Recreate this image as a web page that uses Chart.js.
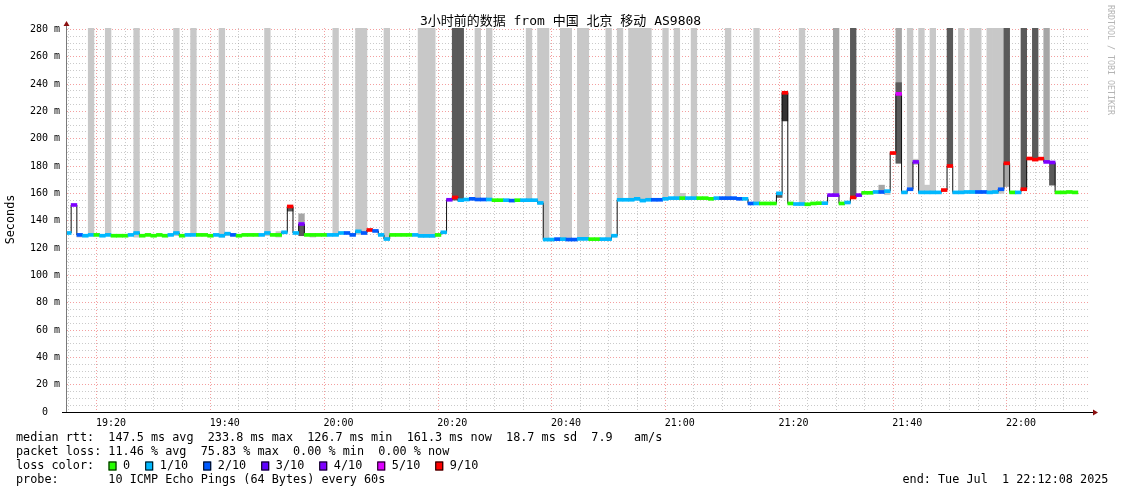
<!DOCTYPE html>
<html>
<head>
<meta charset="utf-8">
<script src="https://cdn.jsdelivr.net/npm/chart.js@4.4.1/dist/chart.umd.min.js"></script>
<style>
html,body{margin:0;padding:0;background:#fff;overflow:hidden}
canvas{display:block}
</style>
</head>
<body>
<canvas id="c" width="1121" height="494"></canvas>
<script>
// ---------------- data ----------------
const titleText = '3小时前的数据 from 中国 北京 移动 AS9808';
const yAxisTitle = 'Seconds';
const watermark = 'RRDTOOL / TOBI OETIKER';
const xLabels = ['19:20','19:40','20:00','20:20','20:40','21:00','21:20','21:40','22:00'];
const yLabelStep = 20;               // labelled every 20 ms
const viewStart = '19:12:16';
const viewEnd = '22:12:08';
const firstSample = '19:12';          // one sample per minute

// median rtt (ms) per minute
const median = [
 131,151.5,129.6,129,129.6,129.6,129,129.6,129,129,
 129,129.6,131,129,129.6,129,129.6,129,129.6,131,
 129,129.6,129.6,129.6,129.6,129,129.6,129,130.5,129.6,
 129,129.6,129.6,129.6,129.6,131,129.6,129.6,131.5,150.4,
 131,137.6,129.6,129.6,129.6,129.6,129.6,129.6,131,131,
 129.6,132.2,131,133.2,132.5,129.6,126.6,129.6,129.6,129.6,
 129.6,129.6,128.9,128.9,128.9,129.6,131.5,155.3,157,155,
 155.5,156,155.5,155.5,155.5,155,155,155,154.7,155,
 155,155,155,153,126.2,126.2,126.5,126.5,126.2,126.2,
 126.7,126.7,126.5,126.5,126.5,126.5,129,155.3,155.3,155.3,
 156,154.7,155.3,155.3,155.3,156,156.5,156.5,156.5,156.5,
 156.5,156.5,156.5,156,156.5,156.5,156.5,156.5,156,156,
 152.6,152.6,152.6,152.6,152.6,160,233.6,152.6,152.2,152.2,
 152,152.6,152.8,152.8,158.7,158.7,152.6,153.3,157,158.7,
 160.4,160.4,161,161,161.6,189.5,232.8,160.7,163,183,
 160.7,160.7,160.7,160.7,162.4,180,160.7,160.7,161,161,
 161,161,160.7,161,163,182,160.7,160.7,163,185.5,
 184.7,185.4,183,182.6,160.7,160.7,161,160.7
];
// lost pings out of 10 per minute
const loss = [
 1,4,2,1,1,0,1,1,0,0,
 0,1,1,0,0,0,0,0,1,1,
 0,1,1,0,0,0,1,1,1,2,
 0,0,0,0,1,1,0,0,1,9,
 1,4,0,0,0,0,1,1,1,2,
 2,1,2,9,2,1,1,0,0,0,
 0,1,1,1,1,0,1,4,9,1,
 1,2,2,2,1,0,0,1,2,0,
 1,1,1,1,1,1,2,1,2,2,
 1,1,0,0,1,1,1,1,1,1,
 1,1,1,2,2,1,1,1,0,1,
 1,0,0,0,1,2,2,2,2,1,
 2,1,0,0,0,1,9,0,1,1,
 0,0,0,1,4,4,0,1,9,4,
 0,0,1,2,1,9,5,1,2,4,
 1,1,1,1,9,9,1,1,1,1,
 2,2,1,1,2,9,0,1,9,9,
 9,9,4,4,0,0,0,0
];
// smoke (ping spread) [sample index, low ms, high ms]; 300 = beyond the top of the graph
const smokeLight = [
 [2,128,130],[4,129,300],[7,129,300],[12,128,300],[19,129,300],[22,129,300],[27,128,300],[28,129,131],
 [35,129,300],[37,128,132],[43,128,130],[47,129,300],[51,130,300],[52,130,300],[56,126,300],
 [62,128,300],[63,128,300],[64,128,300],[65,128.5,130],[72,155,300],[74,155,300],[81,155,300],
 [83,152,300],[84,126,300],[87,126,300],[88,126,300],[90,126,300],[91,126,300],[95,126,300],[96,128,130],
 [97,155,300],[99,155,300],[100,155,300],[101,155,300],[102,155,300],[105,156,300],[107,156,300],
 [108,156,160],[110,156,300],[116,156,300],[121,152,300],[129,152,300],[144,159,161],[148,162,300],
 [149,181,185],[150,160,300],[151,160,166],[152,160,300],[157,160,300],[159,160,300],[160,160,300],
 [162,160,300],[163,160,300],[164,160,300]
];
const smokeMid = [
 [41,139,145],[135,158,300],[143,161,166],[146,236,300],[165,165,182],[172,183,300]
];
const smokeDark = [
 [39,147,150],[41,129,137],[68,155,300],[69,155,300],[125,157,160],[138,157,300],[146,182,241],
 [155,180,300],[165,182,300],[168,163,300],[170,185,300],[173,166,182]
];
const smokeDeep = [[126,213,234]];

const lossKeys = [0,1,2,3,4,5,9];
const lossLabels = ['0','1/10','2/10','3/10','4/10','5/10','9/10'];
const lossColors = ['#26ff00','#00b8ff','#0059ff','#5e00ff','#7e00ff','#dd00ff','#ff0000'];

const statLines = [
 'median rtt:  147.5 ms avg  233.8 ms max  126.7 ms min  161.3 ms now  18.7 ms sd  7.9   am/s',
 'packet loss: 11.46 % avg  75.83 % max  0.00 % min  0.00 % now',
 'loss color:',
 'probe:       10 ICMP Echo Pings (64 Bytes) every 60s'
];
const endText = 'end: Tue Jul  1 22:12:08 2025';

// ---------------- helpers ----------------
function toMin(s){ // minutes after 19:00
  const p = s.split(':').map(Number);
  return (p[0]-19)*60 + p[1] + (p[2]||0)/60;
}
function fmt(v){
  const h = 19 + Math.floor(v/60), m = Math.round(v%60);
  return h + ':' + String(m).padStart(2,'0');
}
const x0 = toMin(viewStart), x1 = toMin(viewEnd);
const s0 = toMin(firstSample);
const cx = j => s0 + j + 0.5;
const majorX = xLabels.map(toMin);
const lossColorOf = l => { let c = lossColors[0]; lossKeys.forEach((k,i)=>{ if(l>=k) c = lossColors[i]; }); return c; };

const BAND = 1.1;
const mkSmoke = arr => arr.map(([j,lo,hi]) => ({x: cx(j), y:[lo,hi]}));
const barBase = {type:'bar', grouped:false, barPercentage:1, categoryPercentage:1, borderWidth:0};

const xTicks = []; for (let v = 15; v <= 190; v += 5) xTicks.push(v);
const yTicks = []; for (let v = 0; v <= 280; v += 5) yTicks.push(v);

const MONO = "'DejaVu Sans Mono', 'Noto Sans CJK SC', monospace";
const gridMinor = 'rgba(150,150,150,0.5)';
const gridMajor = 'rgba(235,80,80,0.55)';

const decorations = {
  id: 'decorations',
  afterDraw(chart){
    const c = chart.ctx, a = chart.chartArea;
    c.save();
    // y axis
    c.strokeStyle = '#7a7a7a'; c.lineWidth = 1;
    c.beginPath(); c.moveTo(a.left - 0.5, a.bottom + 0.5); c.lineTo(a.left - 0.5, a.top - 3); c.stroke();
    // x axis
    c.strokeStyle = '#000';
    c.beginPath(); c.moveTo(a.left - 5, a.bottom + 0.5); c.lineTo(a.right + 4, a.bottom + 0.5); c.stroke();
    // arrows
    c.fillStyle = '#8b1010';
    c.beginPath(); c.moveTo(a.left - 0.5, a.top - 7); c.lineTo(a.left - 3.5, a.top - 2); c.lineTo(a.left + 2.5, a.top - 2); c.closePath(); c.fill();
    c.beginPath(); c.moveTo(a.right + 8, a.bottom + 0.5); c.lineTo(a.right + 3, a.bottom - 2.5); c.lineTo(a.right + 3, a.bottom + 3.5); c.closePath(); c.fill();

    // title
    c.fillStyle = '#000';
    c.font = '13px ' + MONO; c.textAlign = 'center'; c.textBaseline = 'middle';
    c.fillText(titleText, 560.5, 21.5);

    // y title
    c.save(); c.translate(10.5, 219.5); c.rotate(-Math.PI/2);
    c.font = '11.8px ' + MONO; c.fillText(yAxisTitle, 0, 0); c.restore();

    // watermark
    c.save(); c.translate(1110.5, 60); c.rotate(Math.PI/2);
    c.fillStyle = '#b4b4b4'; c.font = '8.3px ' + MONO; c.fillText(watermark, 0, 0); c.restore();

    // stats lines
    c.font = '11.8px ' + MONO; c.textAlign = 'left'; c.fillStyle = '#000';
    const ys = [438, 452, 466, 480];
    statLines.forEach((t,i) => c.fillText(t, 16, ys[i]));
    // loss colour legend
    let x = 108.5;
    lossLabels.forEach((lab,i) => {
      c.fillStyle = lossColors[i];
      c.fillRect(x, ys[2]-4.5, 8, 9);
      c.strokeStyle = '#000'; c.lineWidth = 1;
      c.strokeRect(x + 0.5, ys[2]-4, 7, 8);
      c.fillStyle = '#000';
      const tx = x + 14.6;
      c.fillText(lab, tx, ys[2]);
      x = tx + c.measureText(lab).width + 15;
    });
    c.fillText(endText, 902.5, ys[3]);
    c.restore();
  }
};

new Chart(document.getElementById('c'), {
  type: 'bar',
  data: {
    datasets: [
      Object.assign({}, barBase, {data: median.map((m,j)=>({x:cx(j), y:[m-BAND, m+BAND]})),
        backgroundColor: loss.map(lossColorOf), order: 0}),
      {type:'line', data: median.map((m,j)=>({x:cx(j), y:m})), stepped:'middle',
        borderColor:'#111', borderWidth:1, pointRadius:0, fill:false, order:1},
      Object.assign({}, barBase, {data: mkSmoke(smokeDeep), backgroundColor:'#333333', order:2}),
      Object.assign({}, barBase, {data: mkSmoke(smokeDark), backgroundColor:'#5a5a5a', order:3}),
      Object.assign({}, barBase, {data: mkSmoke(smokeMid), backgroundColor:'#a6a6a6', order:4}),
      Object.assign({}, barBase, {data: mkSmoke(smokeLight), backgroundColor:'#c8c8c8', order:5})
    ]
  },
  options: {
    responsive:false, animation:false, devicePixelRatio:1,
    layout:{padding:{left:0, top:28, right:31, bottom:0}},
    plugins:{legend:{display:false}, tooltip:{enabled:false}, title:{display:false}},
    events:[],
    scales:{
      x:{type:'linear', min:x0, max:x1, z:1, offset:false,
        afterBuildTicks: s => { s.ticks = xTicks.map(v=>({value:v})); },
        afterFit: s => { s.height = 82; },
        ticks:{autoSkip:false, maxRotation:0, minRotation:0, padding:2, color:'#000',
          font:{family:MONO, size:10},
          callback: v => majorX.includes(v) ? fmt(v) : ''},
        grid:{color: ctx => (ctx.tick && majorX.includes(ctx.tick.value)) ? gridMajor : gridMinor,
          lineWidth:1, drawTicks:true, tickLength:3, tickBorderDash:[1,2]},
        border:{display:false, dash:[1,2]}
      },
      y:{type:'linear', min:0, max:281, z:1,
        afterBuildTicks: s => { s.ticks = yTicks.map(v=>({value:v})); },
        afterFit: s => { s.width = 67; },
        ticks:{autoSkip:false, padding:7, color:'#000', font:{family:MONO, size:10},
          callback: v => v % yLabelStep === 0 ? (v === 0 ? '0  ' : v + ' m') : ''},
        grid:{color: ctx => (ctx.tick && ctx.tick.value % yLabelStep === 0) ? gridMajor : gridMinor,
          lineWidth:1, drawTicks:false},
        border:{display:false, dash:[1,2]}
      }
    }
  },
  plugins:[decorations]
});
</script>
</body>
</html>
